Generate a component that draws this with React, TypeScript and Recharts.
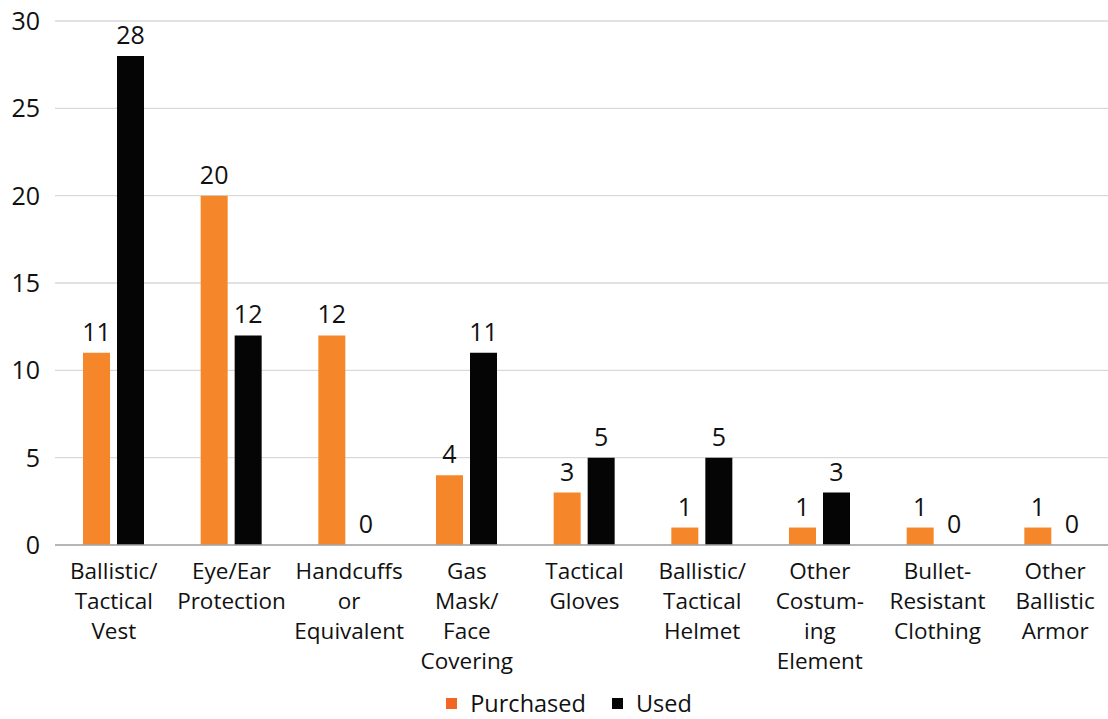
import React from 'react'
import {
  BarChart,
  Bar,
  XAxis,
  YAxis,
  CartesianGrid,
  Legend,
  LabelList
} from 'recharts'

const categories = [
  'Ballistic/\nTactical\nVest',
  'Eye/Ear\nProtection',
  'Handcuffs\nor\nEquivalent',
  'Gas\nMask/\nFace\nCovering',
  'Tactical\nGloves',
  'Ballistic/\nTactical\nHelmet',
  'Other\nCostum-\ning\nElement',
  'Bullet-\nResistant\nClothing',
  'Other\nBallistic\nArmor'
]
const purchased = [11, 20, 12, 4, 3, 1, 1, 1, 1]
const used = [28, 12, 0, 11, 5, 5, 3, 0, 0]
const yTicks = [0, 5, 10, 15, 20, 25, 30]

const data = categories.map((name, i) => ({
  name,
  purchased: purchased[i],
  used: used[i]
}))

const FONT = '"Open Sans", "Noto Sans", sans-serif'
const ORANGE = '#F5862A'
const BLACK = '#050505'

const CategoryTick = ({ x, y, payload }: any) => {
  const lines = String(payload.value).split('\n')
  return (
    <text x={x} y={y} textAnchor="middle" fill="#111" fontSize={22.5} fontFamily={FONT}>
      {lines.map((line, i) => (
        <tspan key={i} x={x} dy={i === 0 ? 32 : 30}>
          {line}
        </tspan>
      ))}
    </text>
  )
}

const LegendContent = () => (
  <div
    style={{
      height: 29,
      display: 'flex',
      justifyContent: 'center',
      alignItems: 'flex-start',
      paddingLeft: 24,
      fontFamily: FONT,
      fontSize: 23.5,
      lineHeight: '26px',
      color: '#111'
    }}
  >
    <span style={{ display: 'flex', alignItems: 'center', marginRight: 26 }}>
      <span style={{ width: 11, height: 11, background: '#F26522', marginRight: 13 }} />
      Purchased
    </span>
    <span style={{ display: 'flex', alignItems: 'center' }}>
      <span style={{ width: 11, height: 11, background: BLACK, marginRight: 13 }} />
      Used
    </span>
  </div>
)

const labelStyle = {
  fill: '#111',
  fontSize: 25,
  fontFamily: FONT
}

export default function App() {
  return (
    <div style={{ width: 1108, height: 719, background: '#fff', overflow: 'hidden' }}>
      <style>{'body{margin:0}'}</style>
      <BarChart
        width={1108}
        height={719}
        data={data}
        margin={{ top: 21, right: -6, bottom: 0, left: 0 }}
        barCategoryGap={28}
        barGap={7}
      >
        <CartesianGrid vertical={false} stroke="#d9d9d9" strokeWidth={1.3} />
        <XAxis
          dataKey="name"
          interval={0}
          height={145}
          tick={<CategoryTick />}
          tickLine={false}
          tickSize={0}
          axisLine={{ stroke: '#a6a6a6', strokeWidth: 1.5 }}
        />
        <YAxis
          width={55}
          domain={[0, 30]}
          ticks={yTicks}
          axisLine={false}
          tickLine={false}
          tickSize={0}
          tickMargin={15}
          tick={{ fill: '#111', fontSize: 25, fontFamily: FONT }}
        />
        <Legend verticalAlign="bottom" content={<LegendContent />} />
        <Bar
          dataKey="purchased"
          name="Purchased"
          fill={ORANGE}
          minPointSize={0.01}
          isAnimationActive={false}
        >
          <LabelList dataKey="purchased" position="top" offset={12} {...labelStyle} />
        </Bar>
        <Bar
          dataKey="used"
          name="Used"
          fill={BLACK}
          minPointSize={0.01}
          isAnimationActive={false}
        >
          <LabelList dataKey="used" position="top" offset={12} {...labelStyle} />
        </Bar>
      </BarChart>
    </div>
  )
}
